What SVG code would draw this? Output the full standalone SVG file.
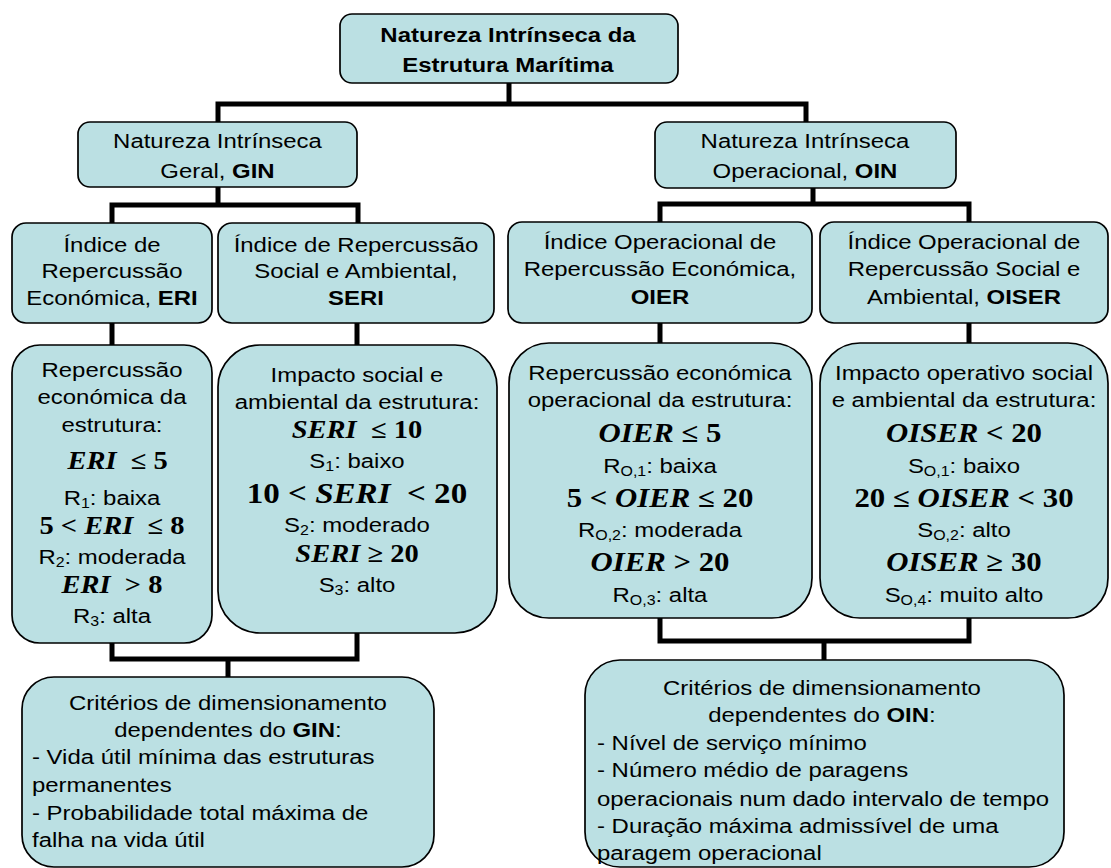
<svg xmlns="http://www.w3.org/2000/svg" width="1111" height="868" viewBox="0 0 1111 868">
<style>
.box{fill:#BBE0E3;stroke:#000;stroke-width:1.7}
.c{fill:none;stroke:#000;stroke-width:5;stroke-linejoin:miter;stroke-linecap:butt}
.t{font-family:"Liberation Sans",Arial,sans-serif;font-size:21px;text-anchor:middle;fill:#000}
.l{text-anchor:start}
.b{font-weight:bold}
.m{font-family:"Liberation Serif","Times New Roman",serif;font-weight:bold;text-anchor:middle;fill:#000}
.i{font-style:italic}
.s{font-size:14px}
</style>
<rect width="1111" height="868" fill="#fff"/>
<g id="connectors">
<path class="c" d="M218,122 V104 H806 V122 M509,83 V104"/>
<path class="c" d="M218,187 V205 M112,223 V205 H358 V223"/>
<path class="c" d="M813,188 V204 M660,222 V204 H969 V222"/>
<path class="c" d="M112,323 V345 M357,323 V345 M660,323 V343 M969,323 V343"/>
<path class="c" d="M112,643 V659 H357 V633 M228,659 V677"/>
<path class="c" d="M660,618 V641 H969 V618 M824,641 V660"/>
</g>
<g id="root">
<rect class="box" x="340" y="14" width="338" height="69" rx="12"/>
<g transform="matrix(1.14 0 0 1 -71.12 0)">
<text class="t b" x="508" y="42">Natureza Intrínseca da</text>
<text class="t b" x="508" y="72">Estrutura Marítima</text>
</g>
</g>
<g id="gin">
<rect class="box" x="78" y="122" width="279" height="65" rx="12"/>
<g transform="matrix(1.14 0 0 1 -30.45 0)">
<text class="t" x="217.5" y="148">Natureza Intrínseca</text>
<text class="t" x="217.5" y="178">Geral, <tspan class="b">GIN</tspan></text>
</g>
</g>
<g id="oin">
<rect class="box" x="655" y="122" width="301" height="66" rx="12"/>
<g transform="matrix(1.14 0 0 1 -112.7 0)">
<text class="t" x="805" y="148">Natureza Intrínseca</text>
<text class="t" x="805" y="178">Operacional, <tspan class="b">OIN</tspan></text>
</g>
</g>
<g id="eri-idx">
<rect class="box" x="12" y="223" width="200" height="100" rx="14"/>
<g transform="matrix(1.14 0 0 1 -15.68 0)">
<text class="t" x="112" y="252">Índice de</text>
<text class="t" x="112" y="278">Repercussão</text>
<text class="t" x="112" y="305">Económica, <tspan class="b">ERI</tspan></text>
</g>
</g>
<g id="seri-idx">
<rect class="box" x="218" y="223" width="276" height="100" rx="14"/>
<g transform="matrix(1.14 0 0 1 -49.84 0)">
<text class="t" x="356" y="252">Índice de Repercussão</text>
<text class="t" x="356" y="278">Social e Ambiental,</text>
<text class="t b" x="356" y="305">SERI</text>
</g>
</g>
<g id="oier-idx">
<rect class="box" x="508" y="222" width="304" height="101" rx="14"/>
<g transform="matrix(1.14 0 0 1 -92.4 0)">
<text class="t" x="660" y="249">Índice Operacional de</text>
<text class="t" x="660" y="276">Repercussão Económica,</text>
<text class="t b" x="660" y="304">OIER</text>
</g>
</g>
<g id="oiser-idx">
<rect class="box" x="820" y="222" width="288" height="101" rx="14"/>
<g transform="matrix(1.14 0 0 1 -134.96 0)">
<text class="t" x="964" y="249">Índice Operacional de</text>
<text class="t" x="964" y="276">Repercussão Social e</text>
<text class="t" x="964" y="304">Ambiental, <tspan class="b">OISER</tspan></text>
</g>
</g>
<g id="eri">
<rect class="box" x="12" y="345" width="200" height="298" rx="28"/>
<g transform="matrix(1.14 0 0 1 -15.68 0)">
<text class="t" x="112" y="377">Repercussão</text>
<text class="t" x="112" y="404">económica da</text>
<text class="t" x="112" y="432">estrutura:</text>
<text class="m" x="117" y="469" font-size="25"><tspan class="i">ERI</tspan>&#160; ≤ 5</text>
<text class="t" x="112" y="505">R<tspan class="s" dy="3">1</tspan><tspan dy="-3">: baixa</tspan></text>
<text class="m" x="112" y="534" font-size="25">5 &lt; <tspan class="i">ERI</tspan>&#160; ≤ 8</text>
<text class="t" x="112" y="564">R<tspan class="s" dy="3">2</tspan><tspan dy="-3">: moderada</tspan></text>
<text class="m" x="112" y="593" font-size="25"><tspan class="i">ERI</tspan>&#160; &gt; 8</text>
<text class="t" x="112" y="623">R<tspan class="s" dy="3">3</tspan><tspan dy="-3">: alta</tspan></text>
</g>
</g>
<g id="seri">
<rect class="box" x="218" y="345" width="279" height="288" rx="42"/>
<g transform="matrix(1.14 0 0 1 -49.98 0)">
<text class="t" x="357" y="382">Impacto social e</text>
<text class="t" x="357" y="409">ambiental da estrutura:</text>
<text class="m" x="357" y="438" font-size="25"><tspan class="i">SERI</tspan>&#160; ≤ 10</text>
<text class="t" x="357" y="468">S<tspan class="s" dy="3">1</tspan><tspan dy="-3">: baixo</tspan></text>
<text class="m" x="357" y="503" font-size="29">10 &lt; <tspan class="i">SERI</tspan>&#160; &lt; 20</text>
<text class="t" x="357" y="532">S<tspan class="s" dy="3">2</tspan><tspan dy="-3">: moderado</tspan></text>
<text class="m" x="357" y="562" font-size="25"><tspan class="i">SERI</tspan> ≥ 20</text>
<text class="t" x="357" y="592">S<tspan class="s" dy="3">3</tspan><tspan dy="-3">: alto</tspan></text>
</g>
</g>
<g id="oier">
<rect class="box" x="509" y="343" width="303" height="275" rx="40"/>
<g transform="matrix(1.14 0 0 1 -92.4 0)">
<text class="t" x="660" y="380">Repercussão económica</text>
<text class="t" x="660" y="407">operacional da estrutura:</text>
<text class="m" x="660" y="442" font-size="27"><tspan class="i">OIER</tspan> ≤ 5</text>
<text class="t" x="660" y="473">R<tspan class="s" dy="3">O,1</tspan><tspan dy="-3">: baixa</tspan></text>
<text class="m" x="660" y="507" font-size="27">5 &lt; <tspan class="i">OIER</tspan> ≤ 20</text>
<text class="t" x="660" y="537">R<tspan class="s" dy="3">O,2</tspan><tspan dy="-3">: moderada</tspan></text>
<text class="m" x="660" y="571" font-size="27"><tspan class="i">OIER</tspan> &gt; 20</text>
<text class="t" x="660" y="602">R<tspan class="s" dy="3">O,3</tspan><tspan dy="-3">: alta</tspan></text>
</g>
</g>
<g id="oiser">
<rect class="box" x="820" y="343" width="288" height="275" rx="40"/>
<g transform="matrix(1.14 0 0 1 -134.96 0)">
<text class="t" x="964" y="380">Impacto operativo social</text>
<text class="t" x="964" y="407">e ambiental da estrutura:</text>
<text class="m" x="964" y="442" font-size="27"><tspan class="i">OISER</tspan> &lt; 20</text>
<text class="t" x="964" y="473">S<tspan class="s" dy="3">O,1</tspan><tspan dy="-3">: baixo</tspan></text>
<text class="m" x="964" y="507" font-size="27">20 ≤ <tspan class="i">OISER</tspan> &lt; 30</text>
<text class="t" x="964" y="537">S<tspan class="s" dy="3">O,2</tspan><tspan dy="-3">: alto</tspan></text>
<text class="m" x="964" y="571" font-size="27"><tspan class="i">OISER</tspan> ≥ 30</text>
<text class="t" x="964" y="602">S<tspan class="s" dy="3">O,4</tspan><tspan dy="-3">: muito alto</tspan></text>
</g>
</g>
<g id="gin-criteria">
<rect class="box" x="22" y="677" width="412" height="190" rx="32"/>
<g transform="matrix(1.14 0 0 1 -31.92 0)">
<text class="t" x="228" y="710">Critérios de dimensionamento</text>
<text class="t" x="228" y="737">dependentes do <tspan class="b">GIN</tspan>:</text>
<text class="t l" x="56.07" y="764">- Vida útil mínima das estruturas</text>
<text class="t l" x="56.07" y="792">permanentes</text>
<text class="t l" x="56.07" y="820">- Probabilidade total máxima de</text>
<text class="t l" x="56.07" y="847">falha na vida útil</text>
</g>
</g>
<g id="oin-criteria">
<rect class="box" x="585" y="660" width="479" height="207" rx="35"/>
<g transform="matrix(1.14 0 0 1 -115.08 0)">
<text class="t" x="822" y="695">Critérios de dimensionamento</text>
<text class="t" x="822" y="722">dependentes do <tspan class="b">OIN</tspan>:</text>
<text class="t l" x="624.63" y="750">- Nível de serviço mínimo</text>
<text class="t l" x="624.63" y="777">- Número médio de paragens</text>
<text class="t l" x="624.63" y="806">operacionais num dado intervalo de tempo</text>
<text class="t l" x="624.63" y="833">- Duração máxima admissível de uma</text>
<text class="t l" x="624.63" y="860">paragem operacional</text>
</g>
</g>
</svg>
